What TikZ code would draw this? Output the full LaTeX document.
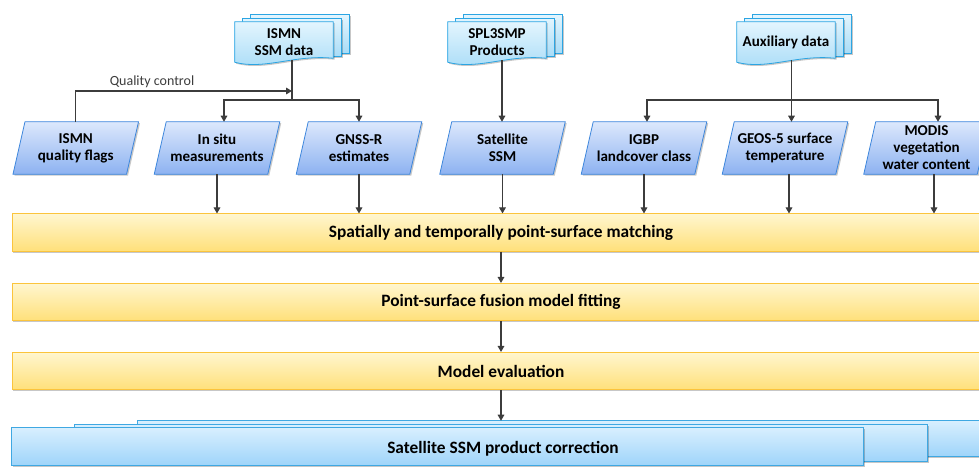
\documentclass[tikz,border=0pt]{standalone}
\usepackage{fontspec}
\setmainfont{Carlito}
\usetikzlibrary{arrows.meta,calc,shadows,backgrounds}

\definecolor{docTop}{HTML}{E3F5FE}
\definecolor{docBot}{HTML}{A8DCF7}
\definecolor{docLine}{HTML}{2BA5E3}
\definecolor{parTop}{HTML}{DCE8FC}
\definecolor{parBot}{HTML}{8DB2F1}
\definecolor{parLine}{HTML}{3D86DC}
\definecolor{barTop}{HTML}{FFF6CF}
\definecolor{barBot}{HTML}{FFE07A}
\definecolor{barLine}{HTML}{FBC43C}
\definecolor{outTop}{HTML}{D8EFFE}
\definecolor{outBot}{HTML}{9ED4FA}
\definecolor{outLine}{HTML}{3FA8E2}
\definecolor{wire}{HTML}{3C3C3C}

\tikzset{
  softshadow/.style={drop shadow={shadow xshift=1.1pt,shadow yshift=-1.1pt,opacity=0.22,fill=black}},
  boxfont/.style={font=\fontsize{11.3}{12.7}\selectfont\bfseries},
  doclabel/.style={boxfont, align=center, inner sep=0pt, minimum width=73.5pt, minimum height=30pt},
  paralabel/.style={boxfont, align=center, inner sep=0pt, minimum width=84.75pt, minimum height=39pt},
  sheet/.style={draw=docLine, line width=0.6pt, top color=docTop, bottom color=docBot, softshadow},
  paraface/.style={draw=parLine, line width=0.6pt, top color=parTop, bottom color=parBot, softshadow},
  stage/.style={draw=barLine, line width=0.6pt, top color=barTop, bottom color=barBot, softshadow,
    minimum width=733.5pt, minimum height=28pt, inner sep=0pt, font=\fontsize{13}{15}\selectfont\bfseries},
  outsheet/.style={draw=outLine, line width=0.6pt, top color=outTop, bottom color=outBot, softshadow},
  conn/.style={draw=wire, line width=0.8pt},
  arr/.style={conn, -{Triangle[width=5pt,length=4.5pt]}},
}

% stack of three sheets behind a document label
\newcommand\docback[1]{%
  \path[sheet] ($(#1.north west)+(16,-7)$) rectangle ($(#1.south east)+(16,-9)$);
  \path[sheet] ($(#1.north west)+(8,-3.5)$) rectangle ($(#1.south east)+(8,-6)$);
  \path[sheet] (#1.north west) -- (#1.south west)
    .. controls ($(#1.south west)+(30,8)$) and ($(#1.south west)+(60,-8)$) .. ($(#1.south east)+(0,-4)$)
    -- (#1.north east) -- cycle;
}
% slanted data box behind a label
\newcommand\paraback[1]{%
  \path[paraface] ($(#1.north west)+(6,0)$) -- ($(#1.north east)+(6,0)$)
    -- ($(#1.south east)+(-6,0)$) -- ($(#1.south west)+(-6,0)$) -- cycle;
}

\begin{document}
\begin{tikzpicture}[x=0.75pt,y=-0.75pt]
\path[use as bounding box] (0,0) rectangle (979,468);

% data sources
\node[doclabel] (ismn) at (284,42) {ISMN\\SSM data};
\node[doclabel] (spl) at (497,42) {SPL3SMP\\Products};
\node[doclabel] (aux) at (786,42) {Auxiliary data};

% inputs
\node[paralabel] (flags) at (75.75,148) {ISMN\\quality flags};
\node[paralabel] (insitu) at (217,148) {In situ\\measurements};
\node[paralabel] (gnss) at (359,148) {GNSS-R\\estimates};
\node[paralabel] (sat) at (502.5,148) {Satellite\\SSM};
\node[paralabel] (igbp) at (644,148) {IGBP\\landcover class};
\node[paralabel] (geos) at (785,148) {GEOS-5 surface\\temperature};
\node[paralabel] (modis) at (926.5,148) {MODIS\\vegetation\\water content};

% processing stages
\node[stage] (match) at (501,232.5) {Spatially and temporally point-surface matching};
\node[stage] (fit) at (501,302) {Point-surface fusion model fitting};
\node[stage] (eval) at (501,371) {Model evaluation};

% output
\node[inner sep=0pt, minimum width=734.25pt, minimum height=42pt,
      font=\fontsize{13}{15}\selectfont\bfseries] (corr) at (503,449) {Satellite SSM product correction};

\begin{pgfonlayer}{background}
  \docback{ismn}
  \docback{spl}
  \docback{aux}
  \paraback{flags}
  \paraback{insitu}
  \paraback{gnss}
  \paraback{sat}
  \paraback{igbp}
  \paraback{geos}
  \paraback{modis}
  \path[outsheet] ($(corr.north west)+(124.5,0)$) rectangle ($(corr.north east)+(0,36)$);
  \path[outsheet] ($(corr.north west)+(61.5,4)$) rectangle ($(corr.north west)+(914.5,41)$);
  \path[outsheet] ($(corr.north west)+(-1.5,7)$) rectangle ($(corr.north west)+(850.5,45)$);
\end{pgfonlayer}

% connectors from the data sources
\coordinate (ismnout) at ($(ismn.south)+(8,-2)$);
\coordinate (ismnjoin) at (292,100);
\coordinate (qcend) at (292,91);
\coordinate (splout) at ($(spl.south)+(5,-2)$);
\coordinate (auxout) at ($(aux.south)+(5.5,-2)$);
\coordinate (auxjoin) at (791.5,100);

\draw[conn] (ismnout) -- (ismnjoin);
\draw[arr] (ismnjoin) -| ($(insitu.north)+(7,0)$);
\draw[arr] (ismnjoin) -| (gnss.north);
\draw[arr] (flags.north) |- (qcend);
\node[font=\fontsize{10.5}{12}\selectfont, text=wire] (qc) at (152,82) {Quality control};

\draw[arr] (splout) -- (splout |- sat.north);

\draw[conn] (auxout) -- (auxjoin);
\draw[arr] (auxjoin) -| ($(igbp.north)+(3,0)$);
\draw[arr] (auxjoin) -- (auxjoin |- geos.north);
\draw[arr] (auxjoin) -| ($(modis.north)+(11.5,0)$);

% inputs into the matching stage
\coordinate (geosout) at ($(geos.south)+(4,0)$);
\coordinate (modisout) at ($(modis.south)+(7.5,0)$);
\draw[arr] (insitu.south) -- (insitu.south |- match.north);
\draw[arr] (gnss.south) -- (gnss.south |- match.north);
\draw[arr] (sat.south) -- (sat.south |- match.north);
\draw[arr] (igbp.south) -- (igbp.south |- match.north);
\draw[arr] (geosout) -- (geosout |- match.north);
\draw[arr] (modisout) -- (modisout |- match.north);

% stage chain
\draw[arr] (match.south) -- (fit.north);
\draw[arr] (fit.south) -- (eval.north);
\draw[arr] (eval.south) -- (eval.south |- corr.north);
\end{tikzpicture}
\end{document}
